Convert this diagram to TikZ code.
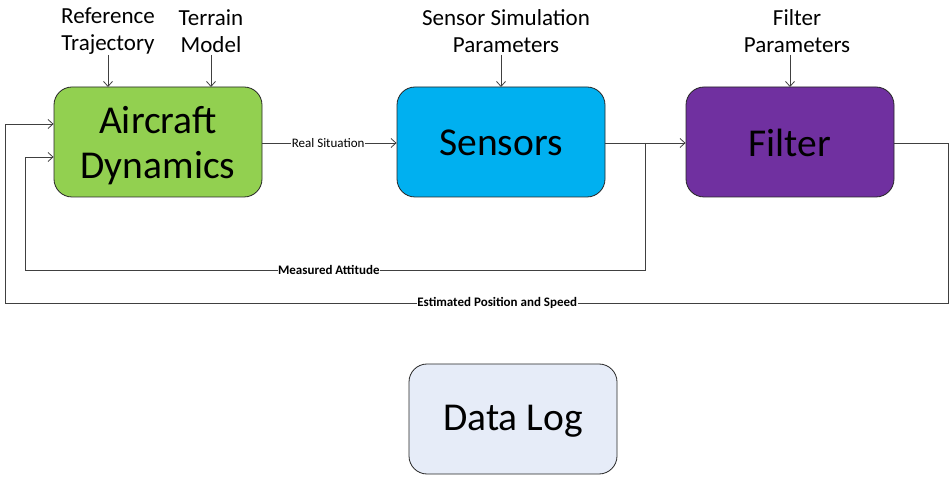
\documentclass[tikz,border=0pt]{standalone}
\usepackage{fontspec}
\setmainfont{Carlito}
\usetikzlibrary{arrows.meta}
\definecolor{dyngreen}{HTML}{92D050}
\definecolor{sensblue}{HTML}{00B0F0}
\definecolor{filtpurple}{HTML}{7030A0}
\definecolor{logblue}{HTML}{E6ECF8}
\begin{document}
\begin{tikzpicture}[x=1pt,y=-1pt,
  block/.style={draw=black!85, line width=0.8pt, rounded corners=18pt,
    minimum width=208pt, minimum height=110pt, inner sep=0pt},
  blocktext/.style={align=center, inner sep=0pt, font=\fontsize{39.5}{45}\selectfont},
  toplabel/.style={align=center, font=\fontsize{23}{27}\selectfont, inner sep=0pt},
  wire/.style={draw=black!75, line width=0.8pt},
  arr/.style={wire, -{Straight Barb[length=5pt,width=9pt]}},
  small/.style={fill=white, inner sep=1pt, font=\fontsize{13}{15}\selectfont},
  smallbold/.style={fill=white, inner sep=0.5pt, font=\fontsize{13}{15}\selectfont\bfseries}]
  \useasboundingbox (0,0) rectangle (951,478);

  % main blocks
  \node[block, fill=dyngreen] (dyn) at (158,142) {};
  \node[block, fill=sensblue] (sens) at (501,142) {};
  \node[block, fill=filtpurple] (filt) at (790,142) {};
  \node[block, fill=logblue] (log) at (513,419) {};
  \node[blocktext] (dyntext) at (158,146) {Aircraft\\Dynamics};
  \node[blocktext] (senstext) at (501,143) {Sensors};
  \node[blocktext] (filttext) at (790,143) {Filter};
  \node[blocktext] (logtext) at (513,421) {Data Log};

  % input labels
  \node[toplabel] (ref) at (108,31) {Reference\\Trajectory};
  \node[toplabel] (ter) at (211,31) {Terrain\\Model};
  \node[toplabel] (ssp) at (506,31) {Sensor Simulation\\Parameters};
  \node[toplabel] (fpar) at (797,31) {Filter\\Parameters};

  \coordinate (refend) at (108,87);
  \coordinate (terend) at (211,87);
  \coordinate (sspend) at (501,87);
  \coordinate (fparend) at (790,87);
  \draw[arr] (108,55) -- (refend);
  \draw[arr] (211,55) -- (terend);
  \draw[arr] (501,55) -- (sspend);
  \draw[arr] (790,55) -- (fparend);

  % forward path
  \draw[arr] (dyn.east |- 0,143) -- node[small, pos=0.49] {Real Situation} (sens.west |- 0,143);
  \draw[arr] (sens.east |- 0,143) -- (filt.west |- 0,143);

  % feedback: measured attitude
  \coordinate (tap) at (645,143);
  \coordinate (ma1) at (645,270);
  \coordinate (ma2) at (25,270);
  \coordinate (ma3) at (25,157);
  \draw[arr] (tap) -- (ma1) -- node[smallbold, pos=0.51] {Measured Attitude} (ma2) -- (ma3) -- (dyn.west |- ma3);

  % feedback: estimated position and speed
  \coordinate (fo1) at (948,143);
  \coordinate (fo2) at (948,303);
  \coordinate (fo3) at (5,303);
  \coordinate (fo4) at (5,124);
  \draw[arr] (filt.east |- fo1) -- (fo1) -- (fo2) -- node[smallbold, pos=0.478] {Estimated Position and Speed} (fo3) -- (fo4) -- (dyn.west |- fo4);
\end{tikzpicture}
\end{document}
